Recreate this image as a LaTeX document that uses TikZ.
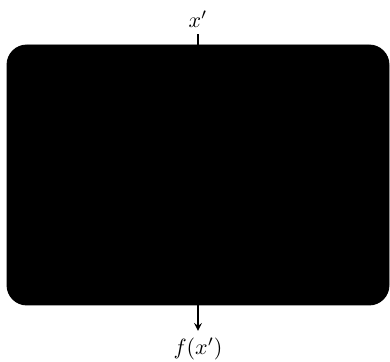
\documentclass[tikz,border=0pt]{standalone}
\begin{document}
\begin{tikzpicture}[x=0.4545pt,y=-0.4545pt,
  blackbox/.style={draw=black,fill=black,rounded corners=9pt,inner sep=0pt},
  lbl/.style={inner sep=3pt}]
\useasboundingbox (0,0) rectangle (390,362);
\node[blackbox,minimum width=382*0.4545pt,minimum height=260*0.4545pt] (box) at (198,175) {};
\node[lbl] (xp) at (198,19) {$x'$};
\node[lbl] (fx) at (198,349) {$f(x')$};
\draw[semithick] (xp.south) -- (box.north);
\draw[semithick,->,>=stealth] (box.south) -- (fx.north);
\end{tikzpicture}
\end{document}
